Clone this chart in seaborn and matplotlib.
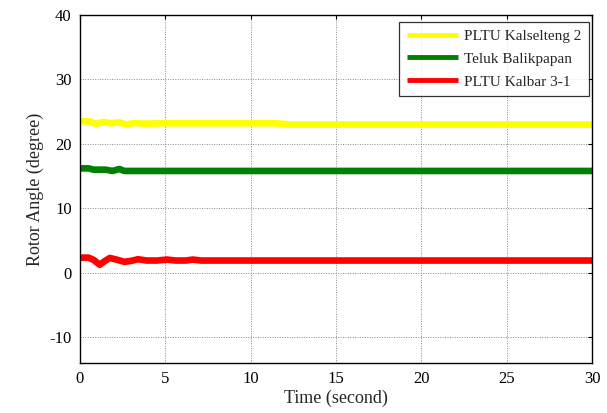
import numpy as np
import pandas as pd
import matplotlib
matplotlib.use("Agg")
import matplotlib.pyplot as plt
import seaborn as sns

# Rotor angle traces of three generators (time in seconds, angle in degrees)
t_kalselteng = [0, 0.6, 0.9, 1.4, 1.8, 2.3, 2.7, 3.2, 3.8, 5.0, 8.0, 11.5, 12.3, 13.0, 30.0]
a_kalselteng = [23.5, 23.5, 23.1, 23.4, 23.2, 23.35, 23.0, 23.25, 23.15, 23.2, 23.2, 23.2, 23.0, 23.0, 23.0]

t_balikpapan = [0, 0.5, 0.8, 1.5, 1.9, 2.3, 2.6, 3.0, 30.0]
a_balikpapan = [16.2, 16.2, 16.0, 16.0, 15.8, 16.1, 15.8, 15.8, 15.8]

t_kalbar = [0, 0.5, 0.8, 1.15, 1.5, 1.75, 2.2, 2.6, 3.0, 3.4, 3.9, 4.5, 5.1, 5.6, 6.2, 6.6, 7.1, 30.0]
a_kalbar = [2.35, 2.35, 2.0, 1.25, 1.9, 2.3, 2.0, 1.7, 1.85, 2.1, 1.9, 1.9, 2.05, 1.9, 1.9, 2.05, 1.9, 1.9]

series_names = ["PLTU Kalselteng 2", "Teluk Balikpapan", "PLTU Kalbar 3-1"]
series_colors = ["#ffff00", "#008000", "#ff0000"]

x_ticks = [0, 5, 10, 15, 20, 25, 30]
y_ticks = [-10, 0, 10, 20, 30, 40]

frames = []
for name, t, a in zip(series_names,
                      [t_kalselteng, t_balikpapan, t_kalbar],
                      [a_kalselteng, a_balikpapan, a_kalbar]):
    frames.append(pd.DataFrame({"time": t, "angle": a, "unit": name}))
df = pd.concat(frames, ignore_index=True)

sns.set_style("white")
plt.rcParams["font.family"] = ["Liberation Serif", "DejaVu Serif"]
plt.rcParams["axes.unicode_minus"] = False

fig = plt.figure(figsize=(6.07, 4.13), dpi=100)
ax = fig.add_axes([80 / 607, 1 - 363 / 413, 512 / 607, 348 / 413])

sns.lineplot(data=df, x="time", y="angle", hue="unit", hue_order=series_names,
             palette=series_colors, linewidth=4.8, ax=ax, legend=True,
             estimator=None, sort=False)

ax.set_xlim(0, 30)
ax.set_ylim(-14, 40)
ax.set_xticks(x_ticks)
ax.set_yticks(y_ticks)
ax.tick_params(axis="both", direction="in", length=3, width=0.8, labelsize=12,
               top=True, right=True, colors="black", pad=6)
ax.grid(True, linestyle=(0, (1, 1.5)), color="#8a8a8a", linewidth=0.7)
for s in ax.spines.values():
    s.set_visible(True)
    s.set_color("black")
    s.set_linewidth(1.0)

ax.set_xlabel("Time (second)", fontsize=13, labelpad=2)
ax.set_ylabel("Rotor Angle (degree)", fontsize=13, labelpad=4)

leg = ax.legend(loc="upper right", bbox_to_anchor=(0.994, 0.981), fontsize=11,
                frameon=True, fancybox=False, edgecolor="black",
                handlelength=3.35, handletextpad=0.4, labelspacing=0.6,
                borderpad=0.5, borderaxespad=0.0)
leg.get_frame().set_linewidth(0.9)
for line in leg.get_lines():
    line.set_linewidth(3.5)
    line.set_solid_capstyle("butt")

fig.savefig("out.png", dpi=100)
